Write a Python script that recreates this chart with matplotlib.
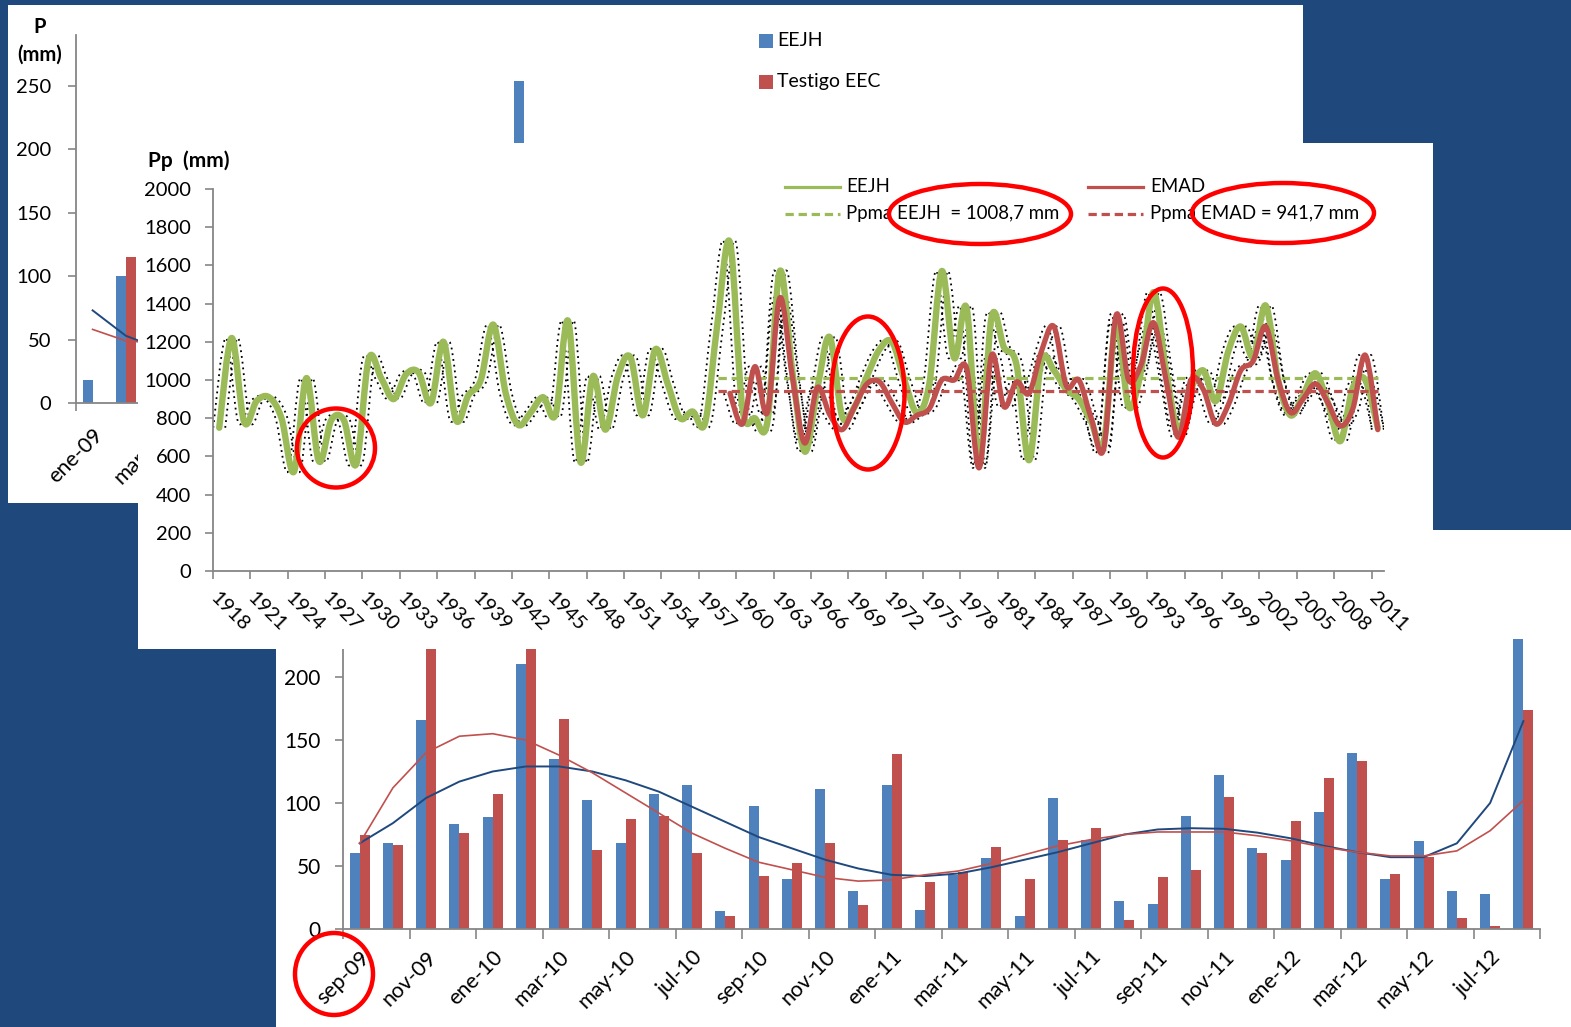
import matplotlib
matplotlib.use("Agg")
import matplotlib.pyplot as plt
import matplotlib.transforms as mtransforms
from matplotlib.patches import Ellipse, Rectangle, PathPatch
from matplotlib.path import Path
from matplotlib.lines import Line2D
import numpy as np

plt.rcParams["font.family"] = ["Lato", "DejaVu Sans"]

# ---------------- datos ----------------
# grafico de fondo (parcialmente tapado)
p1_meses = ["ene-09", "feb-09", "mar-09", "abr-09", "may-09", "jun-09", "jul-09", "ago-09",
            "sep-09", "oct-09", "nov-09", "dic-09", "ene-10", "feb-10", "mar-10", "abr-10",
            "may-10", "jun-10", "jul-10", "ago-10", "sep-10", "oct-10", "nov-10", "dic-10",
            "ene-11", "feb-11", "mar-11", "abr-11", "may-11", "jun-11", "jul-11", "ago-11",
            "sep-11", "oct-11", "nov-11", "dic-11"]
p1_idx = [0, 1, 13]
p1_eejh = [18, 100, 254]
p1_testigo = [np.nan, 115, np.nan]
p1_trend_idx = [0, 1, 2]
p1_trend_eejh = [73, 53, 43]
p1_trend_testigo = [58, 49, 47]

# serie anual
anios = list(range(1918, 2012))
pp_eejh = [750, 1220, 780, 890, 910, 800, 520, 1010, 575, 790,
           790, 560, 1110, 1010, 900, 1030, 1040, 880, 1200, 790,
           920, 1000, 1290, 930, 765, 830, 910, 820, 1310, 570,
           1020, 740, 1020, 1120, 815, 1160, 980, 800, 835, 775,
           1300, 1720, 850, 800, 780, 1570, 1050, 625, 950, 1225,
           810, 860, 1020, 1160, 1200, 1000, 830, 980, 1570, 1115,
           1375, 560, 1330, 1170, 1080, 580, 1100, 1050, 950, 900,
           780, 670, 1300, 860, 1050, 1460, 1050, 740, 950, 1050,
           890, 1150, 1280, 1120, 1390, 1000, 815, 920, 1035, 880,
           680, 960, 1000, 750]
anios_emad = list(range(1959, 2012))
pp_emad = [930, 770, 1070, 830, 1430, 1020, 670, 960, 820, 740,
           860, 980, 990, 880, 780, 815, 850, 1000, 1000, 1060,
           540, 1130, 860, 990, 930, 1150, 1280, 970, 1000, 800,
           640, 1340, 1000, 1080, 1300, 1000, 700, 1000, 950, 770,
           870, 1050, 1100, 1280, 1000, 830, 900, 980, 880, 760,
           850, 1130, 740]
ppma_eejh = 1008.7
ppma_emad = 941.7
ppma_desde, ppma_hasta = 1958, 2011

# serie mensual
meses = ["sep-09", "oct-09", "nov-09", "dic-09", "ene-10", "feb-10", "mar-10", "abr-10",
         "may-10", "jun-10", "jul-10", "ago-10", "sep-10", "oct-10", "nov-10", "dic-10",
         "ene-11", "feb-11", "mar-11", "abr-11", "may-11", "jun-11", "jul-11", "ago-11",
         "sep-11", "oct-11", "nov-11", "dic-11", "ene-12", "feb-12", "mar-12", "abr-12",
         "may-12", "jun-12", "jul-12", "ago-12"]
p_eejh = [60, 68, 166, 83, 89, 210, 135, 102, 68, 107, 114, 14, 98, 40, 111, 30, 114, 15,
          43, 56, 10, 104, 71, 22, 20, 90, 122, 64, 55, 93, 140, 40, 70, 30, 28, 230]
p_testigo = [75, 67, 240, 76, 107, 245, 167, 63, 87, 90, 60, 10, 42, 52, 68, 19, 139, 37,
             45, 65, 40, 71, 80, 7, 41, 47, 105, 60, 86, 120, 133, 44, 57, 9, 2, 174]
tend_eejh = [68, 84, 104, 117, 125, 129, 129, 125, 118, 109, 97, 85, 73, 64, 55, 48, 43, 42,
             44, 49, 55, 61, 68, 75, 79, 80, 79.5, 76.5, 72, 66, 61, 57, 57, 68, 100, 165]
tend_testigo = [68, 112, 140, 153, 155, 150, 138, 124, 108, 92, 76, 64, 53, 47, 41, 38, 39, 43,
                46, 52, 59, 66, 71, 75, 77, 77, 77, 74, 70, 65, 61, 58, 58, 62, 78, 102]

AZUL = "#4F81BD"
ROJO = "#C0504D"
VERDE = "#9BBB59"
AZUL_OSC = "#1F497D"
GRIS = "#868686"

W, H = 1571, 1027
fig = plt.figure(figsize=(W / 100, H / 100), dpi=100, facecolor="#1F497D")


def fx(x):
    return x / W


def fy(y):
    return 1 - y / H


def ejes(x0, y0, x1, y1, z):
    ax = fig.add_axes([fx(x0), fy(y1), (x1 - x0) / W, (y1 - y0) / H], zorder=z)
    ax.set_facecolor("none")
    for s in ["top", "right"]:
        ax.spines[s].set_visible(False)
    for s in ["left", "bottom"]:
        ax.spines[s].set_color(GRIS)
        ax.spines[s].set_linewidth(1.3)
    ax.tick_params(colors=GRIS, length=6, width=1.2, direction="out")
    return ax


def panel(x0, y0, x1, y1, z):
    fig.add_artist(Rectangle((fx(x0), fy(y1)), (x1 - x0) / W, (y1 - y0) / H,
                             transform=fig.transFigure, fc="white", ec="none", zorder=z))


def suave(xs, ys):
    pts = np.column_stack([xs, ys]).astype(float)
    n = len(pts)
    verts = [pts[0]]
    codes = [Path.MOVETO]
    for i in range(n - 1):
        p0 = pts[i - 1] if i > 0 else pts[i]
        p1 = pts[i]
        p2 = pts[i + 1]
        p3 = pts[i + 2] if i + 2 < n else pts[i + 1]
        verts += [p1 + (p2 - p0) / 6, p2 - (p3 - p1) / 6, p2]
        codes += [Path.CURVE4] * 3
    return Path(verts, codes)


# ---------------- panel 1 (fondo) ----------------
panel(8, 5, 1303, 503, 1)
ax1 = ejes(76, 35, 76 + 33.2 * 36, 403, 2)
x1 = np.array(p1_idx)
ax1.bar(x1 - 0.15, p1_eejh, width=0.3, color=AZUL)
ax1.bar(x1 + 0.15, p1_testigo, width=0.3, color=ROJO)
ax1.plot(p1_trend_idx, p1_trend_eejh, color=AZUL_OSC, lw=1.4)
ax1.plot(p1_trend_idx, p1_trend_testigo, color=ROJO, lw=1.2)
ax1.set_xlim(-0.5, 35.5)
ax1.set_ylim(0, 290)
ax1.set_yticks(range(0, 251, 50))
ax1.set_xticks(np.arange(-0.5, 36, 2))
ax1.set_xticks(range(0, 36, 2), minor=True)
ax1.set_xticklabels(p1_meses[::2], minor=True, rotation=45, ha="right", va="top",
                    rotation_mode="anchor")
ax1.tick_params(axis="x", which="major", labelbottom=False)
ax1.tick_params(axis="x", which="minor", length=0, pad=16, labelsize=15.5, labelcolor="black")
ax1.tick_params(axis="y", pad=12, labelsize=14.5, labelcolor="black")
fig.text(fx(40), fy(27), "P", fontsize=14.5, fontweight="bold", ha="center", va="center", zorder=2)
fig.text(fx(40), fy(55), "(mm)", fontsize=14.5, fontweight="bold", ha="center", va="center", zorder=2)
fig.add_artist(Rectangle((fx(759), fy(48)), 14 / W, 14 / H, transform=fig.transFigure,
                         fc=AZUL, ec="none", zorder=2))
fig.add_artist(Rectangle((fx(759), fy(89)), 14 / W, 14 / H, transform=fig.transFigure,
                         fc=ROJO, ec="none", zorder=2))
fig.text(fx(777), fy(41), "EEJH", fontsize=14, ha="left", va="center", zorder=2)
fig.text(fx(777), fy(82), "Testigo EEC", fontsize=14, ha="left", va="center", zorder=2)

# ---------------- panel 3 (mensual) ----------------
panel(276, 530, 1571, 1027, 3)
ax3 = ejes(343, 614, 343 + 33.25 * 36, 929, 4)
xm = np.arange(len(meses))
ax3.bar(xm - 0.15, p_eejh, width=0.3, color=AZUL)
ax3.bar(xm + 0.15, p_testigo, width=0.3, color=ROJO)
ax3.plot(xm, tend_eejh, color=AZUL_OSC, lw=1.4)
ax3.plot(xm, tend_testigo, color=ROJO, lw=1.2)
ax3.set_xlim(-0.5, 35.5)
ax3.set_ylim(0, 250)
ax3.set_yticks(range(0, 201, 50))
ax3.set_xticks(np.arange(-0.5, 36, 2))
ax3.set_xticks(range(0, 36, 2), minor=True)
ax3.set_xticklabels(meses[::2], minor=True, rotation=45, ha="right", va="top",
                    rotation_mode="anchor")
ax3.tick_params(axis="x", which="major", labelbottom=False, length=7)
ax3.tick_params(axis="x", which="minor", length=0, pad=13, labelsize=15.5, labelcolor="black")
ax3.tick_params(axis="y", pad=10, labelsize=15, labelcolor="black")

# ---------------- panel 2 (anual) ----------------
panel(138, 143, 1433, 649, 5)
ax2 = ejes(213, 189, 1384, 571, 6)
ax2.set_xlim(1917.5, 2011.5)
ax2.set_ylim(0, 2000)
ax2.set_yticks(range(0, 2001, 200))
ax2.set_xticks(np.arange(1917.5, 2011, 3))
ax2.set_xticks(anios[::3], minor=True)
ax2.set_xticklabels([str(a) for a in anios[::3]], minor=True, rotation=-45, ha="left",
                    va="top", rotation_mode="anchor")
ax2.tick_params(axis="x", which="major", labelbottom=False)
ax2.tick_params(axis="x", which="minor", length=0, pad=13, labelsize=14.5, labelcolor="black")
ax2.tick_params(axis="y", pad=10, labelsize=14.5, labelcolor="black")

for xs, ys in [(anios, pp_eejh), (anios_emad, pp_emad)]:
    for dx in (-6, 6):
        tr = ax2.transData + mtransforms.ScaledTranslation(dx / 100, 0, fig.dpi_scale_trans)
        ax2.add_patch(PathPatch(suave(xs, ys), fill=False, ec="black", lw=1.3,
                                ls=(0, (1, 2.2)), transform=tr, zorder=2))
ax2.add_patch(PathPatch(suave(anios, pp_eejh), fill=False, ec=VERDE, lw=4.6,
                        capstyle="round", joinstyle="round", zorder=3))
ax2.plot([ppma_desde, ppma_hasta], [ppma_eejh] * 2, color=VERDE, lw=2.3,
         ls=(0, (2.6, 1.5)), zorder=4)
ax2.plot([ppma_desde, ppma_hasta], [ppma_emad] * 2, color=ROJO, lw=2.3,
         ls=(0, (2.6, 1.5)), zorder=4)
ax2.add_patch(PathPatch(suave(anios_emad, pp_emad), fill=False, ec=ROJO, lw=3.8,
                        capstyle="round", joinstyle="round", zorder=5))

fig.text(fx(148), fy(161), "Pp  (mm)", fontsize=15, fontweight="bold", ha="left",
         va="center", zorder=7)
# leyenda
for xa, col, ls, yy in [(785, VERDE, "-", 187), (785, VERDE, (0, (2.6, 1.5)), 214),
                        (1088, ROJO, "-", 187), (1088, ROJO, (0, (2.6, 1.5)), 214)]:
    fig.add_artist(Line2D([fx(xa), fx(xa + 55)], [fy(yy)] * 2, transform=fig.transFigure,
                          color=col, lw=2.3, ls=ls, zorder=7))
fig.text(fx(846), fy(187), "EEJH", fontsize=13.4, ha="left", va="center", zorder=7)
fig.text(fx(846), fy(214), "Ppma EEJH  = 1008,7 mm", fontsize=13.4, ha="left", va="center", zorder=7)
fig.text(fx(1150), fy(187), "EMAD", fontsize=13.4, ha="left", va="center", zorder=7)
fig.text(fx(1150), fy(214), "Ppma EMAD = 941,7 mm", fontsize=13.4, ha="left", va="center", zorder=7)

# ---------------- marcas rojas ----------------
for cx, cy, w, h in [(336, 448, 78, 79), (868, 393, 73, 153), (1163, 373, 60, 169),
                     (980, 214, 182, 60), (1283, 213, 182, 60), (334, 974, 78, 82)]:
    fig.add_artist(Ellipse((fx(cx), fy(cy)), w / W, h / H, transform=fig.transFigure,
                           fill=False, ec="#FF0000", lw=3.2, zorder=8))

fig.savefig("out.png", dpi=100, facecolor=fig.get_facecolor())
